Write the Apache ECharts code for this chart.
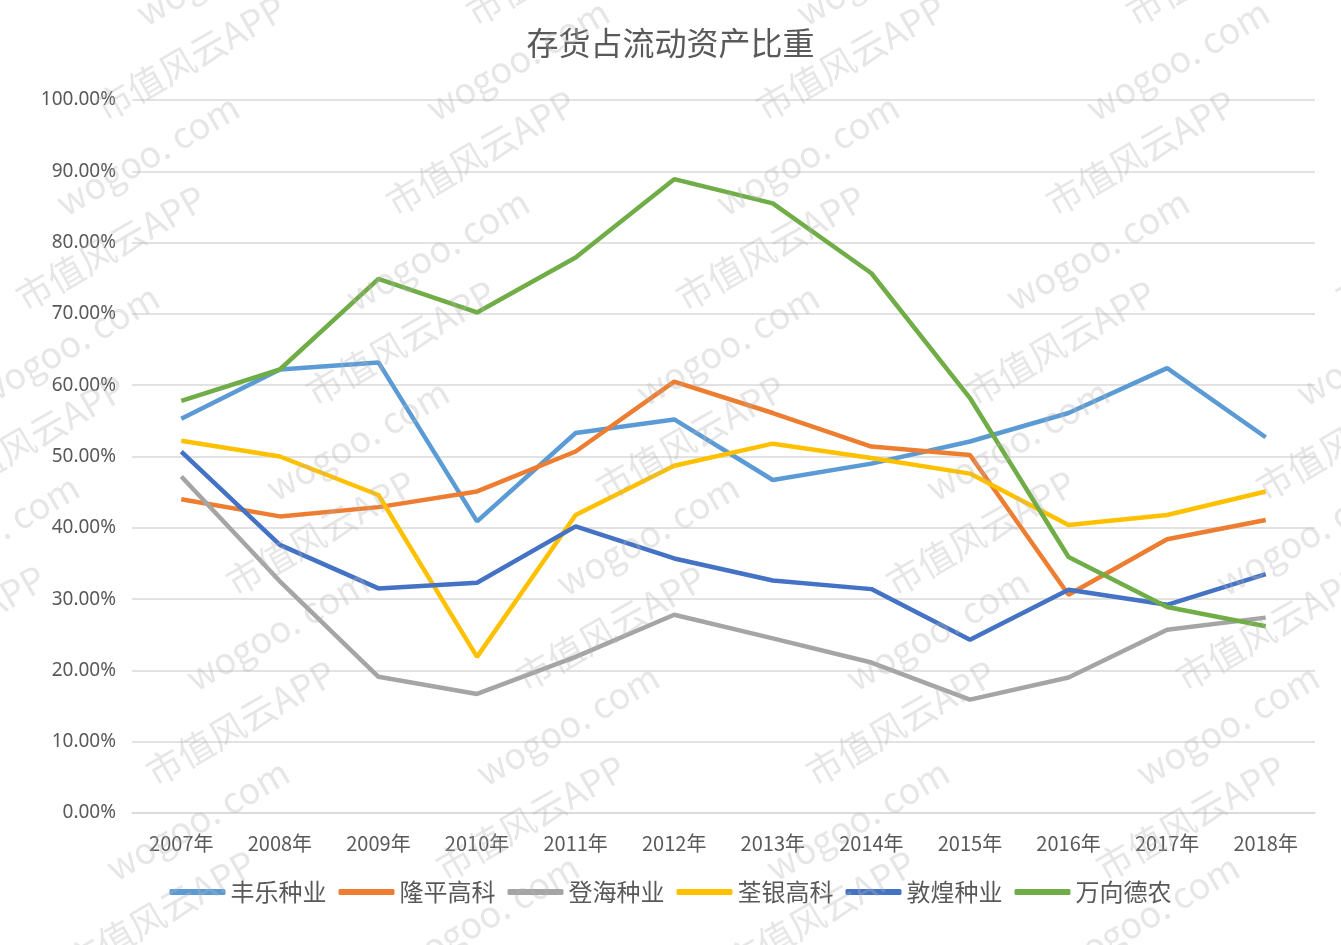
<!DOCTYPE html>
<html>
<head>
<meta charset="utf-8">
<script src="https://cdn.jsdelivr.net/npm/echarts@6/dist/echarts.min.js"></script>
<style>
html,body{margin:0;padding:0;background:#fff;}
#main{width:1341px;height:945px;}
</style>
</head>
<body>
<div id="main"></div>
<script>
var years = ['2007年','2008年','2009年','2010年','2011年','2012年','2013年','2014年','2015年','2016年','2017年','2018年'];
var names = ['丰乐种业','隆平高科','登海种业','荃银高科','敦煌种业','万向德农'];
var fengle   = [55.3, 62.2, 63.2, 40.9, 53.3, 55.2, 46.7, 49.0, 52.1, 56.1, 62.4, 52.7];
var longping = [44.0, 41.6, 42.9, 45.1, 50.7, 60.5, 56.1, 51.4, 50.2, 30.6, 38.4, 41.1];
var denghai  = [47.2, 32.5, 19.1, 16.7, 21.9, 27.8, 24.5, 21.1, 15.9, 19.0, 25.7, 27.4];
var quanyin  = [52.2, 50.0, 44.6, 21.9, 41.8, 48.7, 51.8, 49.8, 47.6, 40.4, 41.8, 45.1];
var dunhuang = [50.7, 37.6, 31.5, 32.3, 40.2, 35.7, 32.6, 31.4, 24.3, 31.3, 29.2, 33.5];
var wanxiang = [57.8, 62.2, 74.9, 70.2, 77.9, 88.9, 85.5, 75.7, 58.2, 35.9, 28.9, 26.2];
var allData = [fengle, longping, denghai, quanyin, dunhuang, wanxiang];
var colors = ['#5B9BD5','#ED7D31','#A5A5A5','#FFC000','#4472C4','#70AD47'];

var myChart = echarts.init(document.getElementById('main'));

// 水印
var marks = [];
var wmText = ['市值风云APP','wogoo. com'];
for(var r=-4;r<14;r++){
	for(var c=0;c<6;c++){
		marks.push({
			type:'text',
			x: c*330 - 200 - r*40,
			y: r*95,
			rotation: Math.PI/6,
			silent:true,
			z:100,
			style:{
				text: wmText[(r+c)%2],
				fill:'rgba(180,180,180,0.33)',
				font:'36px "Noto Sans CJK SC"'
			}
		});
	}
}

var series = [];
for(var i=0;i<names.length;i++){
	series.push({
		name:names[i],
		type:'line',
		data:allData[i],
		showSymbol:false,
		symbol:'none',
		lineStyle:{width:4.5,color:colors[i]},
		itemStyle:{color:colors[i]}
	});
}

myChart.setOption({
	backgroundColor:'#fff',
	animation:false,
	title:{
		text:'存货占流动资产比重',
		left:'center',
		top:22,
		textStyle:{
			color:'#595959',
			fontSize:32,
			fontWeight:'normal',
			fontFamily:'"Noto Sans CJK SC"'
		}
	},
	legend:{
		data:names,
		bottom:36,
		left:'center',
		icon:'roundRect',
		itemWidth:56,
		itemHeight:6,
		itemGap:12,
		textStyle:{
			color:'#595959',
			fontSize:24,
			fontFamily:'"Noto Sans CJK SC"'
		}
	},
	grid:{
		left:132,
		right:26,
		top:100,
		bottom:132,
		containLabel:false
	},
	xAxis:{
		type:'category',
		data:years,
		boundaryGap:true,
		axisLine:{show:true,lineStyle:{color:'#D9D9D9',width:1.5}},
		axisTick:{show:false},
		axisLabel:{
			color:'#595959',
			fontSize:20,
			margin:20,
			fontFamily:'"Noto Sans CJK SC"'
		}
	},
	yAxis:{
		type:'value',
		min:0,
		max:100,
		interval:10,
		axisLine:{show:false},
		axisTick:{show:false},
		splitLine:{lineStyle:{color:'#D9D9D9',width:1.5}},
		axisLabel:{
			color:'#595959',
			fontSize:19,
			margin:16,
			fontFamily:'"Noto Sans", sans-serif',
			formatter:function(v){return v.toFixed(2)+'%';}
		}
	},
	graphic:marks,
	series:series
});
</script>
</body>
</html>
